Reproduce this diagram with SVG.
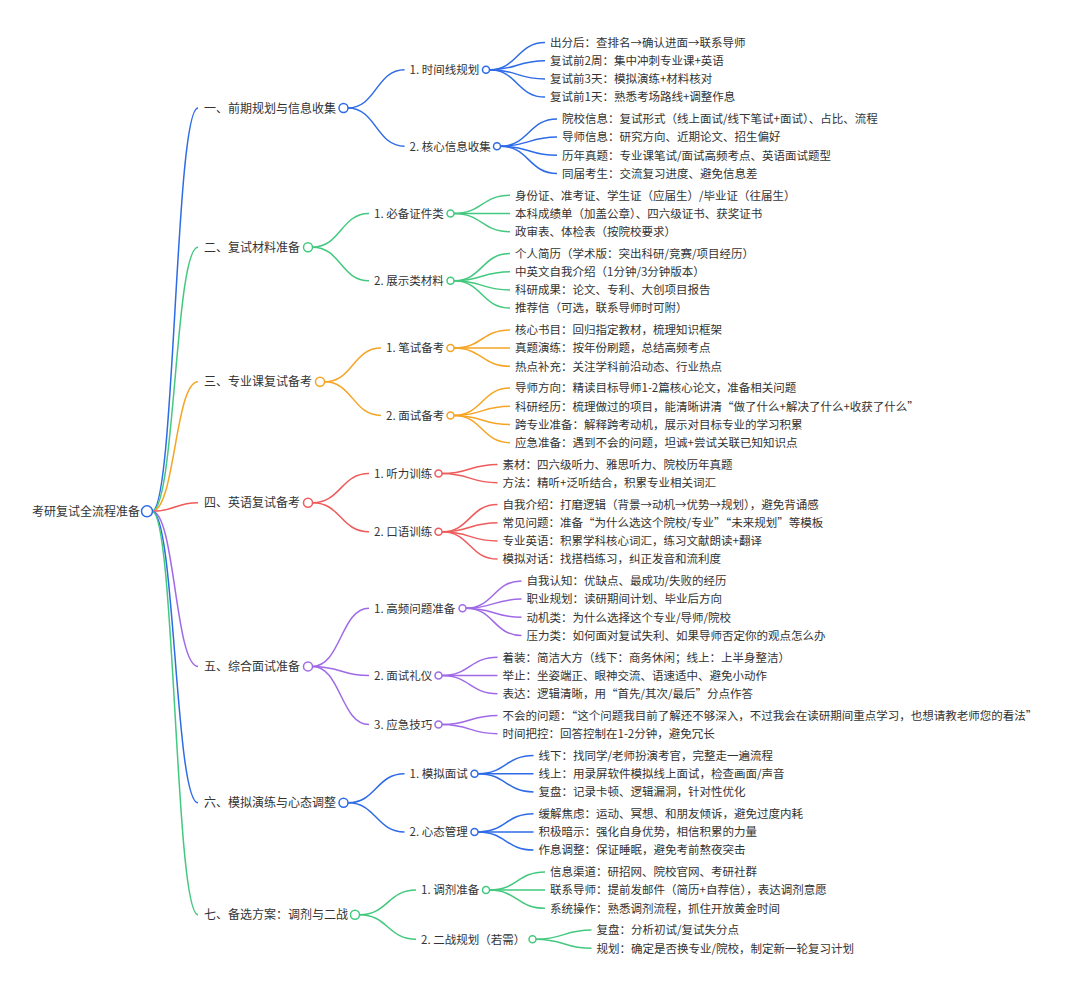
<svg xmlns="http://www.w3.org/2000/svg" width="1080" height="990" viewBox="0 0 1080 990">
<style>
text{font-family:"Noto Sans CJK SC","Noto Sans",sans-serif;font-size:11.5px;fill:#333}
text.h{font-size:12px}
.l{fill:none;stroke-width:1.5}
.c{fill:#fff;stroke-width:1.5}
.B{stroke:#2e6be6}.G{stroke:#43c97f}.O{stroke:#f5a524}.R{stroke:#ef5b5b}.P{stroke:#a06ae6}
</style>
<rect width="1080" height="990" fill="#fff"/>
<g id="connectors">
<path class="l B" d="M152 511.3C175 511.3 175 108 198 108"/>
<path class="l G" d="M152 511.3C175 511.3 175 247.2 198 247.2"/>
<path class="l O" d="M152 511.3C175 511.3 175 381.8 198 381.8"/>
<path class="l R" d="M152 511.3C175 511.3 175 502.7 198 502.7"/>
<path class="l P" d="M152 511.3C175 511.3 175 666.4 198 666.4"/>
<path class="l B" d="M152 511.3C175 511.3 175 802.8 198 802.8"/>
<path class="l G" d="M152 511.3C175 511.3 175 914.7 198 914.7"/>
<path class="l B" d="M348 108C376.2 108 376.2 69.8 404.5 69.8"/>
<path class="l B" d="M348 108C376.2 108 376.2 146.2 404.5 146.2"/>
<path class="l G" d="M312.5 247.2C340.8 247.2 340.8 213.5 369 213.5"/>
<path class="l G" d="M312.5 247.2C340.8 247.2 340.8 280.8 369 280.8"/>
<path class="l O" d="M324.5 381.8C352.8 381.8 352.8 348.1 381 348.1"/>
<path class="l O" d="M324.5 381.8C352.8 381.8 352.8 415.4 381 415.4"/>
<path class="l R" d="M312.5 502.7C340.8 502.7 340.8 473.6 369 473.6"/>
<path class="l R" d="M312.5 502.7C340.8 502.7 340.8 531.8 369 531.8"/>
<path class="l P" d="M312.5 666.4C340.8 666.4 340.8 608.2 369 608.2"/>
<path class="l P" d="M312.5 666.4C340.8 666.4 340.8 675.5 369 675.5"/>
<path class="l P" d="M312.5 666.4C340.8 666.4 340.8 724.6 369 724.6"/>
<path class="l B" d="M348 802.8C376.2 802.8 376.2 773.7 404.5 773.7"/>
<path class="l B" d="M348 802.8C376.2 802.8 376.2 831.9 404.5 831.9"/>
<path class="l G" d="M359.5 914.7C387.8 914.7 387.8 890.1 416 890.1"/>
<path class="l G" d="M359.5 914.7C387.8 914.7 387.8 939.2 416 939.2"/>
<path class="l B" d="M489.5 69.8C517.2 69.8 517.2 42.5 545 42.5"/>
<path class="l B" d="M489.5 69.8C517.2 69.8 517.2 60.7 545 60.7"/>
<path class="l B" d="M489.5 69.8C517.2 69.8 517.2 78.9 545 78.9"/>
<path class="l B" d="M489.5 69.8C517.2 69.8 517.2 97.1 545 97.1"/>
<path class="l B" d="M500.5 146.2C528.8 146.2 528.8 118.9 557 118.9"/>
<path class="l B" d="M500.5 146.2C528.8 146.2 528.8 137.1 557 137.1"/>
<path class="l B" d="M500.5 146.2C528.8 146.2 528.8 155.3 557 155.3"/>
<path class="l B" d="M500.5 146.2C528.8 146.2 528.8 173.5 557 173.5"/>
<path class="l G" d="M454 213.5C482 213.5 482 195.3 510 195.3"/>
<path class="l G" d="M454 213.5C482 213.5 482 213.5 510 213.5"/>
<path class="l G" d="M454 213.5C482 213.5 482 231.7 510 231.7"/>
<path class="l G" d="M454 280.8C482 280.8 482 253.5 510 253.5"/>
<path class="l G" d="M454 280.8C482 280.8 482 271.7 510 271.7"/>
<path class="l G" d="M454 280.8C482 280.8 482 289.9 510 289.9"/>
<path class="l G" d="M454 280.8C482 280.8 482 308.1 510 308.1"/>
<path class="l O" d="M454 348.1C482 348.1 482 329.9 510 329.9"/>
<path class="l O" d="M454 348.1C482 348.1 482 348.1 510 348.1"/>
<path class="l O" d="M454 348.1C482 348.1 482 366.3 510 366.3"/>
<path class="l O" d="M454 415.4C482 415.4 482 388.1 510 388.1"/>
<path class="l O" d="M454 415.4C482 415.4 482 406.3 510 406.3"/>
<path class="l O" d="M454 415.4C482 415.4 482 424.5 510 424.5"/>
<path class="l O" d="M454 415.4C482 415.4 482 442.7 510 442.7"/>
<path class="l R" d="M442 473.6C469.8 473.6 469.8 464.5 497.5 464.5"/>
<path class="l R" d="M442 473.6C469.8 473.6 469.8 482.7 497.5 482.7"/>
<path class="l R" d="M442 531.8C469.8 531.8 469.8 504.5 497.5 504.5"/>
<path class="l R" d="M442 531.8C469.8 531.8 469.8 522.7 497.5 522.7"/>
<path class="l R" d="M442 531.8C469.8 531.8 469.8 540.9 497.5 540.9"/>
<path class="l R" d="M442 531.8C469.8 531.8 469.8 559.1 497.5 559.1"/>
<path class="l P" d="M466 608.2C493.8 608.2 493.8 580.9 521.5 580.9"/>
<path class="l P" d="M466 608.2C493.8 608.2 493.8 599.1 521.5 599.1"/>
<path class="l P" d="M466 608.2C493.8 608.2 493.8 617.3 521.5 617.3"/>
<path class="l P" d="M466 608.2C493.8 608.2 493.8 635.5 521.5 635.5"/>
<path class="l P" d="M442 675.5C469.8 675.5 469.8 657.3 497.5 657.3"/>
<path class="l P" d="M442 675.5C469.8 675.5 469.8 675.5 497.5 675.5"/>
<path class="l P" d="M442 675.5C469.8 675.5 469.8 693.7 497.5 693.7"/>
<path class="l P" d="M442 724.6C469.8 724.6 469.8 715.5 497.5 715.5"/>
<path class="l P" d="M442 724.6C469.8 724.6 469.8 733.7 497.5 733.7"/>
<path class="l B" d="M478 773.7C505.8 773.7 505.8 755.5 533.5 755.5"/>
<path class="l B" d="M478 773.7C505.8 773.7 505.8 773.7 533.5 773.7"/>
<path class="l B" d="M478 773.7C505.8 773.7 505.8 791.9 533.5 791.9"/>
<path class="l B" d="M478 831.9C505.8 831.9 505.8 813.7 533.5 813.7"/>
<path class="l B" d="M478 831.9C505.8 831.9 505.8 831.9 533.5 831.9"/>
<path class="l B" d="M478 831.9C505.8 831.9 505.8 850.1 533.5 850.1"/>
<path class="l G" d="M489.5 890.1C517.2 890.1 517.2 871.9 545 871.9"/>
<path class="l G" d="M489.5 890.1C517.2 890.1 517.2 890.1 545 890.1"/>
<path class="l G" d="M489.5 890.1C517.2 890.1 517.2 908.3 545 908.3"/>
<path class="l G" d="M536 939.2C563.8 939.2 563.8 930.1 591.5 930.1"/>
<path class="l G" d="M536 939.2C563.8 939.2 563.8 948.3 591.5 948.3"/>
</g>
<g id="root"><circle class="c B" cx="147" cy="511.3" r="5.5"/><text class="h" x="140" y="515.8" text-anchor="end">考研复试全流程准备</text></g>
<g id="n1"><circle class="c B" cx="343.5" cy="108" r="4.5"/><text class="h" x="204" y="112.5">一、前期规划与信息收集</text></g>
<g id="n1-1"><circle class="c B" cx="486" cy="69.8" r="3.5"/><text x="409.5" y="74.1">1. 时间线规划</text></g>
<g id="n1-1-1"><text x="550" y="46.8">出分后：查排名→确认进面→联系导师</text></g>
<g id="n1-1-2"><text x="550" y="65">复试前2周：集中冲刺专业课+英语</text></g>
<g id="n1-1-3"><text x="550" y="83.2">复试前3天：模拟演练+材料核对</text></g>
<g id="n1-1-4"><text x="550" y="101.4">复试前1天：熟悉考场路线+调整作息</text></g>
<g id="n1-2"><circle class="c B" cx="497" cy="146.2" r="3.5"/><text x="409.5" y="150.5">2. 核心信息收集</text></g>
<g id="n1-2-1"><text x="562" y="123.2">院校信息：复试形式（线上面试/线下笔试+面试）、占比、流程</text></g>
<g id="n1-2-2"><text x="562" y="141.4">导师信息：研究方向、近期论文、招生偏好</text></g>
<g id="n1-2-3"><text x="562" y="159.6">历年真题：专业课笔试/面试高频考点、英语面试题型</text></g>
<g id="n1-2-4"><text x="562" y="177.8">同届考生：交流复习进度、避免信息差</text></g>
<g id="n2"><circle class="c G" cx="308" cy="247.2" r="4.5"/><text class="h" x="204" y="251.7">二、复试材料准备</text></g>
<g id="n2-1"><circle class="c G" cx="450.5" cy="213.5" r="3.5"/><text x="374" y="217.8">1. 必备证件类</text></g>
<g id="n2-1-1"><text x="515" y="199.6">身份证、准考证、学生证（应届生）/毕业证（往届生）</text></g>
<g id="n2-1-2"><text x="515" y="217.8">本科成绩单（加盖公章）、四六级证书、获奖证书</text></g>
<g id="n2-1-3"><text x="515" y="236">政审表、体检表（按院校要求）</text></g>
<g id="n2-2"><circle class="c G" cx="450.5" cy="280.8" r="3.5"/><text x="374" y="285.1">2. 展示类材料</text></g>
<g id="n2-2-1"><text x="515" y="257.8">个人简历（学术版：突出科研/竞赛/项目经历）</text></g>
<g id="n2-2-2"><text x="515" y="276">中英文自我介绍（1分钟/3分钟版本）</text></g>
<g id="n2-2-3"><text x="515" y="294.2">科研成果：论文、专利、大创项目报告</text></g>
<g id="n2-2-4"><text x="515" y="312.4">推荐信（可选，联系导师时可附）</text></g>
<g id="n3"><circle class="c O" cx="320" cy="381.8" r="4.5"/><text class="h" x="204" y="386.3">三、专业课复试备考</text></g>
<g id="n3-1"><circle class="c O" cx="450.5" cy="348.1" r="3.5"/><text x="386" y="352.4">1. 笔试备考</text></g>
<g id="n3-1-1"><text x="515" y="334.2">核心书目：回归指定教材，梳理知识框架</text></g>
<g id="n3-1-2"><text x="515" y="352.4">真题演练：按年份刷题，总结高频考点</text></g>
<g id="n3-1-3"><text x="515" y="370.6">热点补充：关注学科前沿动态、行业热点</text></g>
<g id="n3-2"><circle class="c O" cx="450.5" cy="415.4" r="3.5"/><text x="386" y="419.7">2. 面试备考</text></g>
<g id="n3-2-1"><text x="515" y="392.4">导师方向：精读目标导师1-2篇核心论文，准备相关问题</text></g>
<g id="n3-2-2"><text x="515" y="410.6">科研经历：梳理做过的项目，能清晰讲清“做了什么+解决了什么+收获了什么”</text></g>
<g id="n3-2-3"><text x="515" y="428.8">跨专业准备：解释跨考动机，展示对目标专业的学习积累</text></g>
<g id="n3-2-4"><text x="515" y="447">应急准备：遇到不会的问题，坦诚+尝试关联已知知识点</text></g>
<g id="n4"><circle class="c R" cx="308" cy="502.7" r="4.5"/><text class="h" x="204" y="507.2">四、英语复试备考</text></g>
<g id="n4-1"><circle class="c R" cx="438.5" cy="473.6" r="3.5"/><text x="374" y="477.9">1. 听力训练</text></g>
<g id="n4-1-1"><text x="502.5" y="468.8">素材：四六级听力、雅思听力、院校历年真题</text></g>
<g id="n4-1-2"><text x="502.5" y="487">方法：精听+泛听结合，积累专业相关词汇</text></g>
<g id="n4-2"><circle class="c R" cx="438.5" cy="531.8" r="3.5"/><text x="374" y="536.1">2. 口语训练</text></g>
<g id="n4-2-1"><text x="502.5" y="508.8">自我介绍：打磨逻辑（背景→动机→优势→规划），避免背诵感</text></g>
<g id="n4-2-2"><text x="502.5" y="527">常见问题：准备“为什么选这个院校/专业”“未来规划”等模板</text></g>
<g id="n4-2-3"><text x="502.5" y="545.2">专业英语：积累学科核心词汇，练习文献朗读+翻译</text></g>
<g id="n4-2-4"><text x="502.5" y="563.4">模拟对话：找搭档练习，纠正发音和流利度</text></g>
<g id="n5"><circle class="c P" cx="308" cy="666.4" r="4.5"/><text class="h" x="204" y="670.9">五、综合面试准备</text></g>
<g id="n5-1"><circle class="c P" cx="462.5" cy="608.2" r="3.5"/><text x="374" y="612.5">1. 高频问题准备</text></g>
<g id="n5-1-1"><text x="526.5" y="585.2">自我认知：优缺点、最成功/失败的经历</text></g>
<g id="n5-1-2"><text x="526.5" y="603.4">职业规划：读研期间计划、毕业后方向</text></g>
<g id="n5-1-3"><text x="526.5" y="621.6">动机类：为什么选择这个专业/导师/院校</text></g>
<g id="n5-1-4"><text x="526.5" y="639.8">压力类：如何面对复试失利、如果导师否定你的观点怎么办</text></g>
<g id="n5-2"><circle class="c P" cx="438.5" cy="675.5" r="3.5"/><text x="374" y="679.8">2. 面试礼仪</text></g>
<g id="n5-2-1"><text x="502.5" y="661.6">着装：简洁大方（线下：商务休闲；线上：上半身整洁）</text></g>
<g id="n5-2-2"><text x="502.5" y="679.8">举止：坐姿端正、眼神交流、语速适中、避免小动作</text></g>
<g id="n5-2-3"><text x="502.5" y="698">表达：逻辑清晰，用“首先/其次/最后”分点作答</text></g>
<g id="n5-3"><circle class="c P" cx="438.5" cy="724.6" r="3.5"/><text x="374" y="728.9">3. 应急技巧</text></g>
<g id="n5-3-1"><text x="502.5" y="719.8">不会的问题：“这个问题我目前了解还不够深入，不过我会在读研期间重点学习，也想请教老师您的看法”</text></g>
<g id="n5-3-2"><text x="502.5" y="738">时间把控：回答控制在1-2分钟，避免冗长</text></g>
<g id="n6"><circle class="c B" cx="343.5" cy="802.8" r="4.5"/><text class="h" x="204" y="807.3">六、模拟演练与心态调整</text></g>
<g id="n6-1"><circle class="c B" cx="474.5" cy="773.7" r="3.5"/><text x="409.5" y="778">1. 模拟面试</text></g>
<g id="n6-1-1"><text x="538.5" y="759.8">线下：找同学/老师扮演考官，完整走一遍流程</text></g>
<g id="n6-1-2"><text x="538.5" y="778">线上：用录屏软件模拟线上面试，检查画面/声音</text></g>
<g id="n6-1-3"><text x="538.5" y="796.2">复盘：记录卡顿、逻辑漏洞，针对性优化</text></g>
<g id="n6-2"><circle class="c B" cx="474.5" cy="831.9" r="3.5"/><text x="409.5" y="836.2">2. 心态管理</text></g>
<g id="n6-2-1"><text x="538.5" y="818">缓解焦虑：运动、冥想、和朋友倾诉，避免过度内耗</text></g>
<g id="n6-2-2"><text x="538.5" y="836.2">积极暗示：强化自身优势，相信积累的力量</text></g>
<g id="n6-2-3"><text x="538.5" y="854.4">作息调整：保证睡眠，避免考前熬夜突击</text></g>
<g id="n7"><circle class="c G" cx="355" cy="914.7" r="4.5"/><text class="h" x="204" y="919.2">七、备选方案：调剂与二战</text></g>
<g id="n7-1"><circle class="c G" cx="486" cy="890.1" r="3.5"/><text x="421" y="894.4">1. 调剂准备</text></g>
<g id="n7-1-1"><text x="550" y="876.2">信息渠道：研招网、院校官网、考研社群</text></g>
<g id="n7-1-2"><text x="550" y="894.4">联系导师：提前发邮件（简历+自荐信），表达调剂意愿</text></g>
<g id="n7-1-3"><text x="550" y="912.6">系统操作：熟悉调剂流程，抓住开放黄金时间</text></g>
<g id="n7-2"><circle class="c G" cx="532.5" cy="939.2" r="3.5"/><text x="421" y="943.5">2. 二战规划（若需）</text></g>
<g id="n7-2-1"><text x="596.5" y="934.4">复盘：分析初试/复试失分点</text></g>
<g id="n7-2-2"><text x="596.5" y="952.6">规划：确定是否换专业/院校，制定新一轮复习计划</text></g>
</svg>
